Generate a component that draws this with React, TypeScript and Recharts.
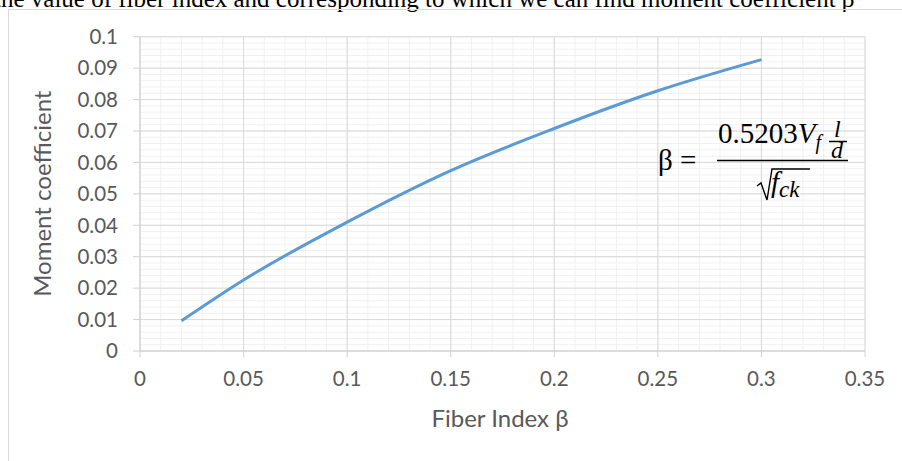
import { LineChart, Line, XAxis, YAxis, CartesianGrid, Label } from 'recharts';

// fiber index (x) against moment coefficient (y)
const fiberIndex = [0.02, 0.05, 0.1, 0.15, 0.2, 0.25, 0.3];
const momentCoeff = [0.0096, 0.0226, 0.041, 0.0574, 0.0708, 0.0828, 0.0927];

const xTicks = [0, 0.05, 0.1, 0.15, 0.2, 0.25, 0.3, 0.35];
const yTicks = [0, 0.01, 0.02, 0.03, 0.04, 0.05, 0.06, 0.07, 0.08, 0.09, 0.1];
const xMinor = Array.from({ length: 36 }, (_, i) => i / 100);
const yMinor = Array.from({ length: 51 }, (_, i) => i / 500);

const data = fiberIndex.map((x, i) => ({ x, y: momentCoeff[i] }));

const axisFont = { fontFamily: 'Lato', fontSize: 20.5, fill: '#595959' };

const scaleOf = (axis: any, v: number) => {
  const s = axis?.scale;
  if (typeof s === 'function') return s(v);
  if (s && typeof s.map === 'function') return s.map(v);
  return 0;
};

const App = () => (
  <div style={{ position: 'absolute', left: 0, top: 0, width: 902, height: 461 }}>
    <LineChart
      width={902}
      height={461}
      data={data}
      margin={{ top: 36.7, right: 37, bottom: 50, left: 80 }}
    >
      <CartesianGrid
        stroke="#f0f0f0"
        verticalCoordinatesGenerator={({ xAxis }: any) => xMinor.map((v) => scaleOf(xAxis, v))}
        horizontalCoordinatesGenerator={({ yAxis }: any) => yMinor.map((v) => scaleOf(yAxis, v))}
      />
      <CartesianGrid stroke="#d9d9d9" />
      <XAxis
        dataKey="x"
        type="number"
        domain={[0, 0.35]}
        ticks={xTicks}
        height={60}
        tick={axisFont}
        tickSize={6}
        tickMargin={14}
        stroke="#d0d0d0"
        allowDecimals
      >
        <Label
          content={() => (
            <text x={500} y={427} textAnchor="middle" fontFamily="Lato" fontSize={24} fill="#595959">
              Fiber Index β
            </text>
          )}
        />
      </XAxis>
      <YAxis
        type="number"
        domain={[0, 0.1]}
        ticks={yTicks}
        width={60}
        tick={axisFont}
        tickSize={7}
        tickMargin={15}
        stroke="#d0d0d0"
      >
        <Label
          content={() => (
            <text
              x={43}
              y={193.7}
              transform="rotate(-90, 43, 193.7)"
              textAnchor="middle"
              dy="0.35em"
              fontFamily="Lato"
              fontSize={24}
              fill="#595959"
            >
              Moment coefficient
            </text>
          )}
        />
      </YAxis>
      <Line
        type="monotone"
        dataKey="y"
        stroke="#5b9bd5"
        strokeWidth={3}
        dot={false}
        isAnimationActive={false}
      />
    </LineChart>
    <svg
      width={902}
      height={461}
      style={{ position: 'absolute', left: 0, top: 0, pointerEvents: 'none' }}
    >
      <text x={-6} y={7} fontFamily="Liberation Serif" fontSize={25} fill="#000">
        the value of fiber index and corresponding to which we can find moment coefficient β
      </text>
      <path d="M8.5 461 L8.5 9.5 L902 9.5" fill="none" stroke="#d9d9d9" strokeWidth={1} />
      {/* formula */}
      <g fontFamily="Liberation Serif" fill="#000">
        <text x={658} y={170} fontSize={29}>β =</text>
        <text x={718} y={143} fontSize={29}>
          0.5203<tspan fontStyle="italic">V</tspan>
          <tspan fontStyle="italic" fontSize={20} dy={6}>f</tspan>
        </text>
        <text x={834} y={137} fontSize={24} fontStyle="italic">l</text>
        <line x1={829} y1={141.5} x2={847} y2={141.5} stroke="#000" strokeWidth={1.5} />
        <text x={831} y={158} fontSize={24} fontStyle="italic">d</text>
        <line x1={717} y1={160.5} x2={848} y2={160.5} stroke="#000" strokeWidth={1.5} />
        <path d="M757 186 L761 183 L767 200 L772 169 L810 169" fill="none" stroke="#000" strokeWidth={1.4} />
        <text x={771} y={192} fontSize={29} fontStyle="italic">
          f<tspan fontSize={23} dy={5}>ck</tspan>
        </text>
      </g>
    </svg>
  </div>
);

export default App;
